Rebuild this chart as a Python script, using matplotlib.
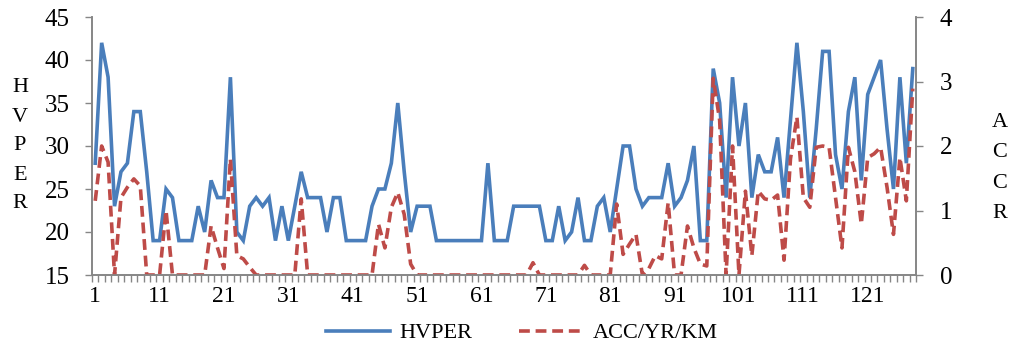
import matplotlib
matplotlib.use("Agg")
import matplotlib.pyplot as plt
import numpy as np

hvper = [28, 42, 38, 23, 27, 28, 34, 34, 27, 19,
         19, 25, 24, 19, 19, 19, 23, 20, 26, 24,
         24, 38, 20, 19, 23, 24, 23, 24, 19, 23,
         19, 23, 27, 24, 24, 24, 20, 24, 24, 19,
         19, 19, 19, 23, 25, 25, 28, 35, 27, 20,
         23, 23, 23, 19, 19, 19, 19, 19, 19, 19,
         19, 28, 19, 19, 19, 23, 23, 23, 23, 23,
         19, 19, 23, 19, 20, 24, 19, 19, 23, 24,
         20, 25, 30, 30, 25, 23, 24, 24, 24, 28,
         23, 24, 26, 30, 19, 19, 39, 35, 24, 38,
         30, 35, 24, 29, 27, 27, 31, 24, 33, 42,
         34, 24, 32, 41, 41, 29, 25, 34, 38, 26,
         36, 38, 40, 32, 25, 38, 28, 39]

acc = [1.15, 2.0, 1.75, 0.0, 1.2, 1.36, 1.49, 1.38, 0.0, 0.0,
       0.0, 1.0, 0.0, 0.0, 0.0, 0.0, 0.0, 0.0, 0.76, 0.42,
       0.1, 1.8, 0.3, 0.25, 0.12, 0.0, 0.0, 0.0, 0.0, 0.0,
       0.0, 0.0, 1.18, 0.0, 0.0, 0.0, 0.0, 0.0, 0.0, 0.0,
       0.0, 0.0, 0.0, 0.0, 0.79, 0.42, 1.05, 1.28, 0.94, 0.17,
       0.0, 0.0, 0.0, 0.0, 0.0, 0.0, 0.0, 0.0, 0.0, 0.0,
       0.0, 0.0, 0.0, 0.0, 0.0, 0.0, 0.0, 0.0, 0.19, 0.0,
       0.0, 0.0, 0.0, 0.0, 0.0, 0.0, 0.15, 0.0, 0.0, 0.0,
       0.0, 1.1, 0.32, 0.48, 0.63, 0.0, 0.1, 0.3, 0.25, 1.12,
       0.0, 0.0, 0.76, 0.42, 0.17, 0.14, 3.05, 2.4, 0.0, 2.0,
       0.0, 1.3, 0.3, 1.3, 1.18, 1.16, 1.24, 0.23, 1.8, 2.45,
       1.2, 1.05, 1.98, 2.0, 1.98, 1.2, 0.42, 1.98, 1.6, 0.79,
       1.82, 1.88, 1.98, 1.36, 0.63, 1.82, 1.15, 2.89]

categories = list(range(1, len(hvper) + 1))
label_ticks = list(range(1, 122, 10))
left_ticks = [15, 20, 25, 30, 35, 40, 45]
right_ticks = [0, 1, 2, 3, 4]

plt.rcParams['font.family'] = ['Liberation Serif', 'DejaVu Serif']
axis_col = '#868686'
blue = '#4A7EBB'
red = '#BE4B48'

fig = plt.figure(figsize=(10.16, 3.56), dpi=100)
ax = fig.add_axes([92/1016, 1 - 275/356, 824/1016, 258/356])
ax2 = ax.twinx()

l1, = ax.plot(categories, hvper, color=blue, lw=2.6, solid_joinstyle='miter')
l2, = ax2.plot(categories, acc, color=red, lw=2.6, dashes=(3, 1.6))

n = len(categories)
ax.set_xlim(0.5, n + 0.5)
ax.set_ylim(15, 45)
ax2.set_ylim(0, 4)
ax.set_yticks(left_ticks)
ax2.set_yticks(right_ticks)
ax.set_xticks(label_ticks)
ax.set_xticklabels([str(t) for t in label_ticks])
ax.set_xticks(np.arange(0.5, n + 1, 1.0), minor=True)
ax.tick_params(axis='x', which='major', length=0, labelsize=17, pad=8)
ax.tick_params(axis='x', which='minor', length=5, width=1, color=axis_col, direction='out')
ax.tick_params(axis='y', length=5, width=1, color=axis_col, labelsize=18, pad=11)
ax2.tick_params(axis='y', length=5, width=1, color=axis_col, labelsize=18, pad=12)

for a in (ax, ax2):
    a.spines['top'].set_visible(False)
    for s in ('left', 'right', 'bottom'):
        a.spines[s].set_color(axis_col)
        a.spines[s].set_linewidth(1.2)

for i, ch in enumerate("HVPER"):
    fig.text(20/1016, 1 - (88 + i * 29)/356, ch, fontsize=16, ha='center', va='center')
for i, ch in enumerate("ACCR"):
    fig.text(1000/1016, 1 - (122 + i * 30.5)/356, ch, fontsize=16, ha='center', va='center')

fig.legend([l1, l2], ['HVPER', 'ACC/YR/KM'], loc='center', bbox_to_anchor=(522/1016, 1 - 333/356),
           ncol=2, frameon=False, fontsize=16, handlelength=2.85, columnspacing=2.1, handletextpad=0.45)

fig.savefig('out.png', dpi=100)
